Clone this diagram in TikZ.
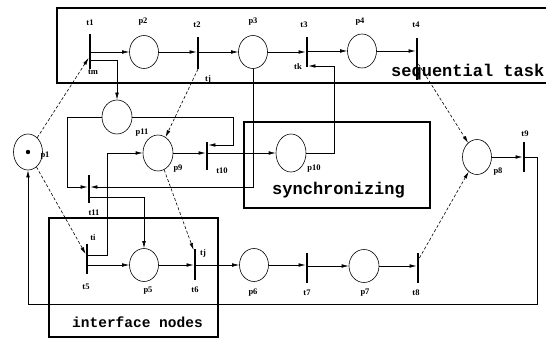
\documentclass[tikz,border=0pt]{standalone}
\usepackage{fontspec}
\setmainfont{Liberation Serif}
\setmonofont{Liberation Mono}
\usetikzlibrary{arrows.meta,shapes.geometric,calc}
\begin{document}
\begin{tikzpicture}[x=1pt,y=-1pt,
  place/.style={draw,ellipse,line width=0.6pt,minimum width=29pt,minimum height=33pt,inner sep=0pt},
  trans/.style={fill=black,rectangle,minimum width=2.4pt,minimum height=30pt,inner sep=0pt},
  arr/.style={line width=0.6pt,-{Latex[length=7pt,width=3.6pt]}},
  darr/.style={arr,densely dashed},
  lab/.style={font=\fontsize{8.5}{9}\selectfont\bfseries,inner sep=0pt},
  boxline/.style={line width=2.4pt},
  boxtext/.style={font=\ttfamily\bfseries\fontsize{17}{18}\selectfont,inner sep=0pt,anchor=west}
]
\useasboundingbox (0,0) rectangle (546,342);
\fill[white] (0,0) rectangle (546,342);

% boxes
\draw[boxline] (600,8) -- (57,8) -- (57,83) -- (600,83);
\draw[boxline] (244,122) rectangle (430,208);
\draw[boxline] (49,218) rectangle (218,337);
\node[boxtext] (tseq) at (391,72) {sequential task};
\node[boxtext] (tsync) at (272,190) {synchronizing};
\node[boxtext,font=\ttfamily\bfseries\fontsize{14.5}{16}\selectfont] (tint) at (72,322) {interface nodes};

% places
\node[place,minimum height=36pt] (p1) at (28,152) {};
\fill (p1.center) circle (2.2pt);
\node[place] (p2) at (144,52) {};
\node[place] (p3) at (253,52) {};
\node[place,minimum height=34pt] (p4) at (362,51) {};
\node[place,minimum width=30pt,minimum height=34pt] (p11) at (117,117) {};
\node[place,minimum width=30pt,minimum height=36pt] (p9) at (158,153) {};
\node[place,minimum width=30pt,minimum height=38pt] (p10) at (291,153) {};
\node[place,minimum height=35pt] (p8) at (477,157) {};
\node[place] (p5) at (144,265) {};
\node[place] (p6) at (254,265) {};
\node[place,minimum width=30pt] (p7) at (364,266) {};

% transitions
\node[trans,minimum height=35pt] (t1) at (90,52) {};
\node[trans,minimum height=32pt] (t2) at (198,53) {};
\node[trans] (t3) at (307,52) {};
\node[trans,minimum height=42pt] (t4) at (417,59) {};
\node[trans] (t9) at (524,157) {};
\node[trans,minimum height=28pt] (t10) at (207,156) {};
\node[trans,minimum height=28pt] (t11) at (89,189) {};
\node[trans] (t5) at (87,259) {};
\node[trans,minimum height=31pt] (t6) at (195,264) {};
\node[trans] (t7) at (307,268) {};
\node[trans] (t8) at (418,268) {};

% labels
\node[lab] (lt1) at (90,23) {t1};
\node[lab] (ltm) at (93,72) {tm};
\node[lab] (lt2) at (197,25) {t2};
\node[lab] (ltj) at (208,79) {tj};
\node[lab] (lt3) at (304,25) {t3};
\node[lab] (ltk) at (298,67) {tk};
\node[lab] (lt4) at (416,25) {t4};
\node[lab] (lt9) at (525,134) {t9};
\node[lab] (lt10) at (222,171) {t10};
\node[lab] (lt11) at (94,213) {t11};
\node[lab] (lt5) at (86,287) {t5};
\node[lab] (lti) at (93,238) {ti};
\node[lab] (lt6) at (195,290) {t6};
\node[lab] (ltj2) at (203,253) {tj};
\node[lab] (lt7) at (307,293) {t7};
\node[lab] (lt8) at (416,293) {t8};
\node[lab] (lp1) at (45,156) {p1};
\node[lab] (lp2) at (143,22) {p2};
\node[lab] (lp3) at (253,22) {p3};
\node[lab] (lp4) at (360,22) {p4};
\node[lab] (lp11) at (142,133) {p11};
\node[lab] (lp9) at (178,169) {p9};
\node[lab] (lp10) at (314,169) {p10};
\node[lab] (lp8) at (498,172) {p8};
\node[lab] (lp5) at (148,291) {p5};
\node[lab] (lp6) at (253,293) {p6};
\node[lab] (lp7) at (365,293) {p7};

% top row
\draw[arr] (t1.east |- p2) -- (p2);
\draw[arr] (p2) -- (t2.west |- p2);
\draw[arr] (t2.east |- p3) -- (p3);
\draw[arr] (p3) -- (t3.west |- p3);
\draw[arr] (t3.east |- p4) -- (p4);
\draw[arr] (p4) -- (t4.west |- p4);
\draw[arr] (t1.east |- 0,60) -| (p11.north);

% bottom row
\draw[arr] (t5.east |- p5) -- (p5);
\draw[arr] (p5) -- (t6.west |- p5);
\draw[arr] (t6.east |- p6) -- (p6);
\draw[arr] (p6) -- (t7.west |- p6);
\draw[arr] (t7.east |- p7) -- (p7);
\draw[arr] (p7) -- (t8.west |- p7);

% dashed
\draw[darr] (p1) -- (t1.west |- 0,58);
\draw[darr] (p1) -- (t5.west |- 0,254);
\draw[darr] (t2.center |- 0,69) -- (p9);
\draw[darr] (p9) -- (t6.west |- 0,250);
\draw[darr] (t4.east |- 0,64) -- (p8);
\draw[darr] (t8.east |- 0,258) -- (p8);

% right side
\draw[arr] (p8) -- (t9.west |- p8);
\draw[arr] (t9.east |- p8) -- (537,157) -- (537,304) -| (p1.south);

% middle
\draw[arr] (p9) -- (t10.west |- p9);
\draw[arr] (t10.east |- p10) -- (p10);
\draw[arr] (p11.east) -| (233,145) -- (t10.east |- 0,145);
\draw[arr] (p11.west) -| (67,187) -- (t11.west |- 0,187);
\draw[arr] (p3.south) |- (t11.east |- 0,187);
\draw[arr] (t11.east |- 0,197) -| (p5.north);
\draw[arr] (t5.east |- 0,255) -| (107,153) -- (p9.west);
\draw[arr] (p10.east) -| (334,66) -- (t3.east |- 0,66);
\end{tikzpicture}
\end{document}
